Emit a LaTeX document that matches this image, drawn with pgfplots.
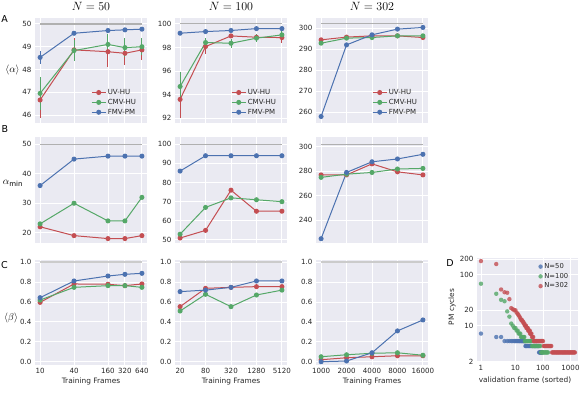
\documentclass[border=0pt]{standalone}
\usepackage{fontspec}
\setmainfont{DejaVu Sans}
\usepackage{pgfplots}
\pgfplotsset{compat=1.18}

\definecolor{sbg}{HTML}{EAEAF2}
\definecolor{cblue}{HTML}{4C72B0}
\definecolor{cgreen}{HTML}{55A868}
\definecolor{cred}{HTML}{C44E52}
\definecolor{tcol}{HTML}{262626}
\definecolor{refc}{HTML}{B0B0B0}
\definecolor{refl}{HTML}{CBCBCB}

\newcommand{\tickfont}{\fontsize{7.1}{8}\selectfont}
\newcommand{\labfont}{\fontsize{7.4}{8}\selectfont}

\pgfplotsset{
  sns/.style={
    scale only axis,
    axis background/.style={fill=sbg},
    axis line style={draw=none},
    tick style={draw=none},
    grid=major,
    major grid style={draw=white, line width=0.9pt},
    tick label style={font=\tickfont, text=tcol},
    /pgf/number format/assume math mode=true,
    scaled ticks=false,
  },
  tf/.style={sns, width=112pt, enlarge x limits=0.05,
    every axis plot/.append style={line width=1pt, mark=*, mark size=2pt},
    legend image code/.code={\draw[mark repeat=2,mark phase=2] plot coordinates {(0pt,0pt) (7pt,0pt) (14pt,0pt)};},
  },
  c1/.style={tf, xtick={10,40,160,320,640}, xticklabels={10,40,160,320,640}},
  c2/.style={tf, xtick={20,80,320,1280,5120}, xticklabels={20,80,320,1280,5120}},
  c3/.style={tf, xtick={1000,2000,4000,8000,16000}, xticklabels={1000,2000,4000,8000,16000}},
  rA/.style={height=105pt, xticklabels={},
    legend style={at={(0.945,0.035)}, anchor=south east, draw=none, fill=none,
      font=\fontsize{7}{8}\selectfont, text=tcol, row sep=0pt, nodes={inner sep=1.6pt}},
    legend cell align=left},
  rB/.style={height=106pt, xticklabels={}},
  rC/.style={height=105pt, ymin=-0.033, ymax=1.023, ytick={0,0.2,...,1.0},
    yticklabel style={/pgf/number format/.cd, fixed, fixed zerofill, precision=1}},
  eb/.style={error bars/y dir=both, error bars/y explicit, error bars/error mark=none,
    error bars/error bar style={line width=1pt}},
  ref/.style={forget plot, no marks, line width=1.2pt, color=refc},
  refC/.style={forget plot, no marks, line width=2pt, color=refl},
}

\begin{document}
\begin{tikzpicture}
\useasboundingbox (0,0) rectangle (581pt,394pt);

% ---------- row A: <alpha> ----------
\begin{axis}[xmode=log, log basis x=2, c1, rA, at={(35pt,376pt)}, anchor=north west, ymin=45.65, ymax=50.26, ytick={46,47,48,49,50}]
\addplot[ref] coordinates {(10,50) (640,50)};
\addplot[cred, eb] coordinates {(10,46.66) +- (0,0.8) (40,48.86) +- (0,0.5) (160,48.78) +- (0,0.65) (320,48.71) +- (0,0.5) (640,48.86) +- (0,0.45)};
\addplot[cgreen, eb] coordinates {(10,46.95) +- (0,0.72) (40,48.83) +- (0,0.45) (160,49.1) +- (0,0.44) (320,48.96) +- (0,0.42) (640,49.0) +- (0,0.38)};
\addplot[cblue, eb] coordinates {(10,48.53) +- (0,0.28) (40,49.59) +- (0,0.04) (160,49.71) +- (0,0.04) (320,49.74) +- (0,0.03) (640,49.77) +- (0,0.03)};
\legend{UV-HU,CMV-HU,FMV-PM}
\end{axis}

\begin{axis}[xmode=log, log basis x=2, c2, rA, at={(175pt,376pt)}, anchor=north west, ymin=91.6, ymax=100.5, ytick={92,94,96,98,100}]
\addplot[ref] coordinates {(20,100) (5120,100)};
\addplot[cred, eb] coordinates {(20,93.6) +- (0,1.55) (80,98.08) +- (0,0.64) (320,98.98) +- (0,0.15) (1280,98.87) +- (0,0.25) (5120,98.84) +- (0,0.42)};
\addplot[cgreen, eb] coordinates {(20,94.69) +- (0,1.23) (80,98.42) +- (0,0.38) (320,98.36) +- (0,0.38) (1280,98.79) +- (0,0.33) (5120,99.07) +- (0,0.3)};
\addplot[cblue, eb] coordinates {(20,99.21) +- (0,0.08) (80,99.35) +- (0,0.05) (320,99.44) +- (0,0.05) (1280,99.6) +- (0,0.04) (5120,99.6) +- (0,0.04)};
\legend{UV-HU,CMV-HU,FMV-PM}
\end{axis}

\begin{axis}[xmode=log, log basis x=2, c3, rA, at={(316pt,376pt)}, anchor=north west, ymin=254.8, ymax=304.8, ytick={260,270,280,290,300}]
\addplot[ref] coordinates {(1000,302) (16000,302)};
\addplot[cred] coordinates {(1000,294.4) (2000,295.7) (4000,296.3) (8000,296.3) (16000,295.5)};
\addplot[cgreen] coordinates {(1000,292.8) (2000,295.2) (4000,295.5) (8000,296.3) (16000,296.3)};
\addplot[cblue] coordinates {(1000,257.9) (2000,292.0) (4000,296.8) (8000,299.5) (16000,300.3)};
\legend{UV-HU,CMV-HU,FMV-PM}
\end{axis}

% ---------- row B: alpha_min ----------
\begin{axis}[xmode=log, log basis x=2, c1, rB, at={(35pt,257pt)}, anchor=north west, ymin=16.5, ymax=52.5, ytick={20,30,40,50}]
\addplot[ref] coordinates {(10,50) (640,50)};
\addplot[cred] coordinates {(10,22) (40,19) (160,18) (320,18) (640,19)};
\addplot[cgreen] coordinates {(10,23) (40,30) (160,24) (320,24) (640,32)};
\addplot[cblue] coordinates {(10,36) (40,45) (160,46) (320,46) (640,46)};
\end{axis}

\begin{axis}[xmode=log, log basis x=2, c2, rB, at={(175pt,257pt)}, anchor=north west, ymin=48.4, ymax=103.8, ytick={50,60,70,80,90,100}]
\addplot[ref] coordinates {(20,100) (5120,100)};
\addplot[cred] coordinates {(20,51) (80,55) (320,76) (1280,65) (5120,65)};
\addplot[cgreen] coordinates {(20,53) (80,67) (320,72) (1280,71) (5120,70)};
\addplot[cblue] coordinates {(20,86) (80,94) (320,94) (1280,94) (5120,94)};
\end{axis}

\begin{axis}[xmode=log, log basis x=2, c3, rB, at={(316pt,257pt)}, anchor=north west, ymin=221.5, ymax=307.9, ytick={240,260,280,300}]
\addplot[ref] coordinates {(1000,302) (16000,302)};
\addplot[cred] coordinates {(1000,277) (2000,277) (4000,286) (8000,279.5) (16000,277)};
\addplot[cgreen] coordinates {(1000,275) (2000,277.6) (4000,279) (8000,281.8) (16000,282.3)};
\addplot[cblue] coordinates {(1000,225) (2000,279) (4000,287.7) (8000,290) (16000,293.8)};
\end{axis}

% ---------- row C: <beta> ----------
\begin{axis}[xmode=log, log basis x=2, c1, rC, at={(35pt,134pt)}, anchor=north west]
\addplot[refC] coordinates {(10,1) (640,1)};
\addplot[cred] coordinates {(10,0.597) (40,0.782) (160,0.779) (320,0.765) (640,0.782)};
\addplot[cgreen] coordinates {(10,0.62) (40,0.748) (160,0.765) (320,0.765) (640,0.748)};
\addplot[cblue] coordinates {(10,0.644) (40,0.812) (160,0.862) (320,0.879) (640,0.889)};
\end{axis}

\begin{axis}[xmode=log, log basis x=2, c2, rC, at={(175pt,134pt)}, anchor=north west]
\addplot[refC] coordinates {(20,1) (5120,1)};
\addplot[cred] coordinates {(20,0.554) (80,0.738) (320,0.748) (1280,0.755) (5120,0.755)};
\addplot[cgreen] coordinates {(20,0.51) (80,0.678) (320,0.554) (1280,0.671) (5120,0.72)};
\addplot[cblue] coordinates {(20,0.705) (80,0.72) (320,0.748) (1280,0.812) (5120,0.812)};
\end{axis}

\begin{axis}[xmode=log, log basis x=2, c3, rC, at={(316pt,134pt)}, anchor=north west]
\addplot[refC] coordinates {(1000,1) (16000,1)};
\addplot[cred] coordinates {(1000,0.02) (2000,0.04) (4000,0.05) (8000,0.06) (16000,0.06)};
\addplot[cgreen] coordinates {(1000,0.05) (2000,0.07) (4000,0.085) (8000,0.09) (16000,0.065)};
\addplot[cblue] coordinates {(1000,0.0) (2000,0.007) (4000,0.09) (8000,0.31) (16000,0.42)};
\end{axis}

% ---------- D: PM cycles ----------
\begin{axis}[ymode=log, sns, at={(477pt,136pt)}, anchor=north west, width=101pt, height=104pt,
  x coord trafo/.code={\pgfmathparse{(#1<2)?(#1*0.555556):(1.111111+0.4342945*ln(#1/2))}},
  x coord inv trafo/.code={\pgfmathparse{(#1<1.111111)?(#1*1.8):(2*exp(2.302585*(#1-1.111111)))}},
  xmin=0.74, xmax=1875,
  ymin=1.95, ymax=210,
  xtick={1,10,100,1000}, xticklabels={1,10,100,1000},
  ytick={2,10,20,100,200}, yticklabels={2,10,20,100,200},
  legend style={at={(0.95,0.985)}, anchor=north east, draw=none, fill=none,
    font=\fontsize{6.8}{7}\selectfont, text=tcol, row sep=0pt, nodes={inner sep=1.6pt}},
  legend cell align=left,
  every axis plot/.append style={only marks, mark=*, mark size=2.2pt, mark options={draw opacity=0, fill opacity=0.8}},
]
\addplot[cblue] coordinates {(1,7)(2,6)(3,6)(4,5)(5,5)(6,5)(7,5)(8,5)(9,5)(10,5)(11,5)(12,5)(13,5)(14,5)(15,5)(16,5)(17,5)(18,5)(19,5)(20,5)(21,5)(22,5)(23,4)(24,4)(25,4)(27,4)(29,4)(31,4)(33,4)(35,4)(38,4)(41,4)(44,4)(47,4)(50,4)(53,4)(57,4)(61,4)(65,4)(69,4)(72,3)(75,3)(78,3)(81,3)(84,3)(88,3)(91,3)(95,3)};
\addplot[cgreen] coordinates {(1,66)(2,42)(3,32)(4,30)(5,19)(6,15)(7,11)(8,10)(9,9)(10,9)(11,8)(12,8)(13,7)(14,7)(15,7)(16,6)(17,6)(18,6)(19,6)(20,6)(21,6)(22,5)(23,5)(24,5)(26,5)(28,5)(30,5)(32,5)(34,5)(36,5)(38,5)(40,4)(42,4)(45,4)(48,4)(51,4)(54,4)(58,4)(62,4)(66,4)(70,4)(75,4)(80,4)(85,3)(90,3)(95,3)(101,3)(107,3)(114,3)(121,3)(128,3)(136,3)(144,3)(152,3)};
\addplot[cred] coordinates {(1,183)(2,160)(3,51)(4,45)(5,44)(6,33)(7,22)(8,21)(9,20)(10,20)(11,18)(12,17)(13,16)(14,15)(15,14)(16,13)(17,13)(18,12)(19,12)(20,11)(21,11)(22,10)(23,10)(24,10)(25,9)(26,9)(27,9)(28,9)(29,8)(30,8)(31,8)(32,8)(33,8)(34,7)(35,7)(36,7)(38,7)(40,6)(42,6)(44,6)(46,5)(48,5)(51,5)(54,5)(57,5)(60,5)(64,5)(68,5)(72,5)(77,5)(82,5)(88,5)(94,5)(100,5)(106,4)(112,4)(119,4)(126,4)(134,4)(142,4)(150,4)(159,4)(169,4)(179,4)(190,4)(200,4)(212,3)(225,3)(239,3)(254,3)(270,3)(287,3)(305,3)(324,3)(344,3)(365,3)(388,3)(412,3)(438,3)(465,3)(494,3)(525,3)(558,3)(593,3)(630,3)(669,3)(711,3)(755,3)(802,3)(852,3)(905,3)(962,3)(1022,3)(1086,3)(1154,3)(1226,3)(1302,3)(1380,3)(1445,3)};
\legend{N=50,N=100,N=302}
\end{axis}

% ---------- titles and labels ----------
\node[font=\fontsize{12}{14}\selectfont] at (91pt,388pt) {$N = 50$};
\node[font=\fontsize{12}{14}\selectfont] at (231pt,388pt) {$N = 100$};
\node[font=\fontsize{12}{14}\selectfont] at (372pt,388pt) {$N = 302$};
\node at (12.5pt,324pt) {$\langle\alpha\rangle$};
\node at (13pt,211pt) {$\alpha_{\min}$};
\node at (11pt,76pt) {$\langle\beta\rangle$};
\node[font=\fontsize{9.5}{10}\selectfont] at (4.5pt,375pt) {A};
\node[font=\fontsize{9.5}{10}\selectfont] at (5pt,265pt) {B};
\node[font=\fontsize{9.5}{10}\selectfont] at (4.5pt,128.5pt) {C};
\node[font=\fontsize{9.5}{10}\selectfont] at (450pt,131pt) {D};
\node[font=\labfont, text=tcol] at (91pt,13pt) {Training Frames};
\node[font=\labfont, text=tcol] at (231pt,13pt) {Training Frames};
\node[font=\labfont, text=tcol] at (372pt,13pt) {Training Frames};
\node[font=\labfont, text=tcol] at (525pt,13.5pt) {validation frame (sorted)};
\node[font=\labfont, text=tcol, rotate=90] at (452pt,87pt) {PM cycles};
\end{tikzpicture}
\end{document}
